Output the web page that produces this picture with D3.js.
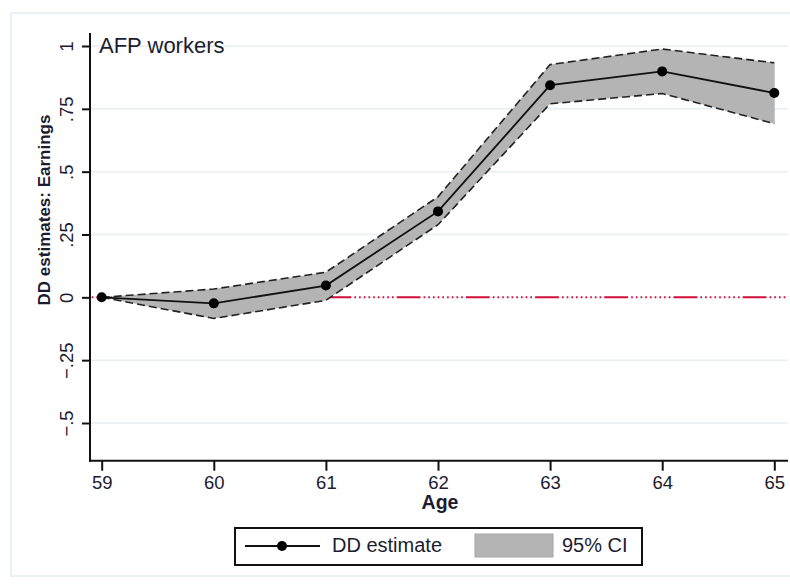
<!DOCTYPE html>
<html>
<head>
<meta charset="utf-8">
<script src="https://cdn.jsdelivr.net/npm/d3@7"></script>
<style>
  body { margin: 0; background: #fff; }
  svg { font-family: "Liberation Sans", Arial, sans-serif; }
</style>
</head>
<body>
<svg id="chart" width="790" height="585"></svg>
<script>
// data
var ages = [59, 60, 61, 62, 63, 64, 65];
var estimate = [0, -0.024, 0.047, 0.342, 0.844, 0.899, 0.813];
var ciUpper = [0, 0.033, 0.100, 0.400, 0.926, 0.988, 0.933];
var ciLower = [0, -0.084, -0.012, 0.289, 0.770, 0.811, 0.691];
var yTicks = [-0.5, -0.25, 0, 0.25, 0.5, 0.75, 1];
var yTickLabels = ["\u2212.5", "\u2212.25", "0", ".25", ".5", ".75", "1"];

var svg = d3.select("#chart");

var x = d3.scaleLinear().domain([59, 65]).range([101.7, 774.3]);
var y = d3.scaleLinear().domain([-0.5, 1]).range([423, 46]);

var plotLeft = 90, plotRight = 788;
var plotTop = y(1.052), plotBottom = y(-0.65);

// outer frame
svg.append("rect")
   .attr("x", 11).attr("y", 13)
   .attr("width", 800).attr("height", 563)
   .attr("fill", "none")
   .attr("stroke", "#e3edf1")
   .attr("stroke-width", 1.5);

// gridlines
svg.append("g").selectAll("line")
   .data(yTicks)
   .enter().append("line")
   .attr("x1", plotLeft).attr("x2", plotRight)
   .attr("y1", function(d) { return y(d); })
   .attr("y2", function(d) { return y(d); })
   .attr("stroke", "#e6eff3")
   .attr("stroke-width", 1.5);

// zero reference line
svg.append("line")
   .attr("x1", plotLeft + 1).attr("x2", plotRight)
   .attr("y1", y(0)).attr("y2", y(0))
   .attr("stroke", "#d3103c")
   .attr("stroke-width", 2)
   .attr("stroke-dasharray", "23.8 3.1 1.6 3.1 1.6 3.1 1.6 3.1 1.6 3.1 1.6 3.1 1.6 3.1 1.6 3.1 1.6 3.1 1.6 3.1")
   .attr("stroke-dashoffset", 40.3);

var pts = ages.map(function(a, i) {
  return { age: a, est: estimate[i], lo: ciLower[i], hi: ciUpper[i] };
});

// CI band
var area = d3.area()
  .x(function(d) { return x(d.age); })
  .y0(function(d) { return y(d.lo); })
  .y1(function(d) { return y(d.hi); });

svg.append("path")
   .datum(pts)
   .attr("d", area)
   .attr("fill", "#b4b4b4");

var lineHi = d3.line().x(function(d) { return x(d.age); }).y(function(d) { return y(d.hi); });
var lineLo = d3.line().x(function(d) { return x(d.age); }).y(function(d) { return y(d.lo); });
var lineEst = d3.line().x(function(d) { return x(d.age); }).y(function(d) { return y(d.est); });

[lineHi, lineLo].forEach(function(l) {
  svg.append("path")
     .datum(pts)
     .attr("d", l)
     .attr("fill", "none")
     .attr("stroke", "#222")
     .attr("stroke-width", 1.6)
     .attr("stroke-dasharray", "8 4");
});

// right edge of band
svg.append("line")
   .attr("x1", x(65)).attr("x2", x(65))
   .attr("y1", y(ciUpper[6])).attr("y2", y(ciLower[6]))
   .attr("stroke", "#bdbdbd").attr("stroke-width", 1);

svg.append("path")
   .datum(pts)
   .attr("d", lineEst)
   .attr("fill", "none")
   .attr("stroke", "#111")
   .attr("stroke-width", 1.8);

svg.append("g").selectAll("circle")
   .data(pts)
   .enter().append("circle")
   .attr("cx", function(d) { return x(d.age); })
   .attr("cy", function(d) { return y(d.est); })
   .attr("r", 5)
   .attr("fill", "#000");

// axes
var yAxis = d3.axisLeft(y)
  .tickValues(yTicks)
  .tickSize(8)
  .tickSizeOuter(0)
  .tickFormat(function(d, i) { return yTickLabels[i]; });

var gy = svg.append("g")
   .attr("transform", "translate(" + plotLeft + ",0)")
   .call(yAxis);
gy.select(".domain").remove();
gy.selectAll(".tick line").attr("stroke", "#111").attr("stroke-width", 2);
gy.selectAll(".tick text")
  .attr("x", null).attr("dy", null)
  .attr("transform", "translate(-17,0) rotate(-90)")
  .attr("text-anchor", "middle")
  .style("font-size", "18.5px")
  .attr("fill", "#1c1c30");

svg.append("line")
   .attr("x1", plotLeft).attr("x2", plotLeft)
   .attr("y1", plotTop).attr("y2", plotBottom + 1)
   .attr("stroke", "#111").attr("stroke-width", 2);

var xAxis = d3.axisBottom(x)
  .tickValues(ages)
  .tickSize(10)
  .tickSizeOuter(0)
  .tickFormat(d3.format("d"));

var gx = svg.append("g")
   .attr("transform", "translate(0," + plotBottom + ")")
   .call(xAxis);
gx.select(".domain").remove();
gx.selectAll(".tick line").attr("stroke", "#111").attr("stroke-width", 2);
gx.selectAll(".tick text")
  .attr("y", 28).attr("dy", null)
  .style("font-size", "18.5px")
  .attr("fill", "#1c1c30");

svg.append("line")
   .attr("x1", plotLeft - 1).attr("x2", plotRight)
   .attr("y1", plotBottom).attr("y2", plotBottom)
   .attr("stroke", "#111").attr("stroke-width", 2);

// titles
svg.append("text")
   .attr("x", 440).attr("y", 509)
   .attr("text-anchor", "middle")
   .style("font-size", "19.5px")
   .style("font-weight", "bold")
   .attr("fill", "#1c1c30")
   .text("Age");

svg.append("text")
   .attr("transform", "translate(50,210) rotate(-90)")
   .attr("text-anchor", "middle")
   .style("font-size", "17px")
   .style("font-weight", "bold")
   .attr("fill", "#1c1c30")
   .text("DD estimates: Earnings");

svg.append("text")
   .attr("x", 99).attr("y", 53)
   .style("font-size", "22px")
   .attr("fill", "#1c1c30")
   .text("AFP workers");

// legend
var leg = svg.append("g");
leg.append("rect")
   .attr("x", 235).attr("y", 528)
   .attr("width", 407).attr("height", 37)
   .attr("fill", "#fff")
   .attr("stroke", "#111").attr("stroke-width", 2);
leg.append("line")
   .attr("x1", 245).attr("x2", 320)
   .attr("y1", 546).attr("y2", 546)
   .attr("stroke", "#111").attr("stroke-width", 1.8);
leg.append("circle")
   .attr("cx", 282).attr("cy", 546).attr("r", 5)
   .attr("fill", "#000");
leg.append("text")
   .attr("x", 332).attr("y", 552)
   .style("font-size", "20px")
   .attr("fill", "#1c1c30")
   .text("DD estimate");
leg.append("rect")
   .attr("x", 475).attr("y", 534)
   .attr("width", 78).attr("height", 23)
   .attr("fill", "#b4b4b4")
   .attr("stroke", "#a6a6a6").attr("stroke-width", 1);
leg.append("text")
   .attr("x", 562).attr("y", 552)
   .style("font-size", "20px")
   .attr("fill", "#1c1c30")
   .text("95% CI");
</script>
</body>
</html>
